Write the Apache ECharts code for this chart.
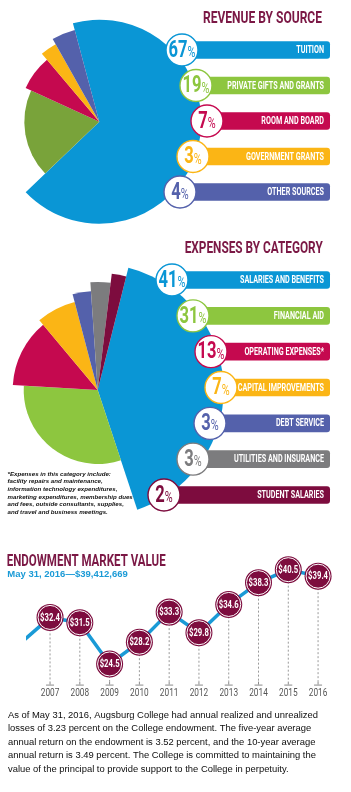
<!DOCTYPE html>
<html>
<head>
<meta charset="utf-8">
<script src="https://cdn.jsdelivr.net/npm/echarts@6/dist/echarts.min.js"></script>
<style>
  html, body { margin: 0; padding: 0; background: #fff; }
  #chart { width: 351px; height: 792px; }
</style>
</head>
<body>
<div id="chart"></div>
<script>
// ---- data ----
const revenueNames = ['TUITION', 'PRIVATE GIFTS AND GRANTS', 'ROOM AND BOARD', 'GOVERNMENT GRANTS', 'OTHER SOURCES'];
const revenuePct = [67, 19, 7, 3, 4];

const expenseNames = ['SALARIES AND BENEFITS', 'FINANCIAL AID', 'OPERATING EXPENSES*', 'CAPITAL IMPROVEMENTS',
  'DEBT SERVICE', 'UTILITIES AND INSURANCE', 'STUDENT SALARIES'];
const expensePct = [41, 31, 13, 7, 3, 3, 2];

const endowYears = [2007, 2008, 2009, 2010, 2011, 2012, 2013, 2014, 2015, 2016];
const endowValues = [32.4, 31.5, 24.5, 28.2, 33.3, 29.8, 34.6, 38.3, 40.5, 39.4];
const endowLeadIn = [2006, 28]; // line comes in from the left edge

// ---- look ----
const BLUE = '#0a96d5', GREEN = '#8dc63f', OLIVE = '#79a33a', RED = '#c5094f',
  YELLOW = '#fbb515', PURPLE = '#5461ab', GRAY = '#7c7c7e', MAROON = '#7d0c3e', TITLE = '#7b1845';
const FONT = 'Roboto';
const SQ = 0.72; // squeeze to mimic the condensed face

const revBarColors = [BLUE, GREEN, RED, YELLOW, PURPLE];
const revSliceColors = [BLUE, OLIVE, RED, YELLOW, PURPLE];
const revRadius = [102, 75, 81, 89, 95];
const revBadgeX = [182, 196, 207, 193, 180];

const expColors = [BLUE, GREEN, RED, YELLOW, PURPLE, GRAY, MAROON];
const expRadius = [126, 74, 85, 91, 99, 108, 117];
const expBadgeX = [172, 193, 211, 221, 210, 193, 164];

const BAR_END = 330;
const ENDOW_MIN = 21, ENDOW_MAX = 45;

const ctx = document.createElement('canvas').getContext('2d');
function textWidth(text, font) {
  ctx.font = font;
  return ctx.measureText(text).width;
}

// one pie layer per slice so every slice can have its own radius
function pieLayers(names, values, colors, radii, center, startAngle) {
  return names.map((_, k) => ({
    type: 'pie',
    z: 1,
    silent: true,
    center: center,
    radius: [0, radii[k]],
    startAngle: startAngle,
    clockwise: true,
    padAngle: 0,
    label: { show: false },
    labelLine: { show: false },
    itemStyle: { borderWidth: 0 },
    data: values.map((v, i) => ({
      value: v,
      name: names[i],
      itemStyle: { color: i === k ? colors[i] : 'rgba(0,0,0,0)' }
    }))
  }));
}

function badgeSeries(names, pct, colors, badgeX, axisIndex) {
  return {
    type: 'custom',
    z: 3,
    silent: true,
    xAxisIndex: axisIndex,
    yAxisIndex: axisIndex,
    data: names.map((n, i) => [badgeX[i], i, pct[i]]),
    renderItem: function (params, api) {
      const i = params.dataIndex;
      const c = colors[i];
      const p = api.coord([api.value(0), api.value(1)]);
      const end = api.coord([BAR_END, api.value(1)]);
      const digits = String(api.value(2));
      const fN = 'bold 23px ' + FONT, fP = '15px ' + FONT;
      const wN = textWidth(digits, fN) * SQ, wP = textWidth('%', fP) * SQ;
      const left = p[0] - (wN + wP) / 2;
      return {
        type: 'group',
        children: [
          { type: 'rect', shape: { x: p[0], y: p[1] - 8.8, width: end[0] - p[0], height: 17.6, r: [0, 3, 3, 0] },
            style: { fill: c } },
          { type: 'circle', shape: { cx: p[0], cy: p[1], r: 16 },
            style: { fill: '#fff', stroke: c, lineWidth: 1.4 } },
          { type: 'text', x: left, y: p[1] + 1, scaleX: SQ,
            style: { text: digits, font: fN, fill: c, align: 'left', verticalAlign: 'middle' } },
          { type: 'text', x: left + wN, y: p[1] + 3.4, scaleX: SQ,
            style: { text: '%', font: fP, fill: c, align: 'left', verticalAlign: 'middle' } },
          { type: 'text', x: end[0] - 6, y: p[1] + 0.5, scaleX: SQ,
            style: { text: names[i], font: 'bold 10px ' + FONT, fill: '#fff', align: 'right', verticalAlign: 'middle' } }
        ]
      };
    }
  };
}

function titleText(text, x, y, width, align) {
  const font = 'bold 17.3px ' + FONT;
  return {
    type: 'text', x: x, y: y, scaleX: width / textWidth(text, font), silent: true,
    style: { text: text, font: font, fill: TITLE, align: align, verticalAlign: 'middle' }
  };
}

const footnote = [
  '*Expenses in this category include:',
  'facility repairs and maintenance,',
  'information technology expenditures,',
  'marketing expenditures, membership dues',
  'and fees, outside consultants, supplies,',
  'and travel and business meetings.'
].join('\n');

const paragraphLines = [
  'As of May 31, 2016, Augsburg College had annual realized and unrealized',
  'losses of 3.23 percent on the College endowment. The five-year average',
  'annual return on the endowment is 3.52 percent, and the 10-year average',
  'annual return is 3.49 percent. The College is committed to maintaining the',
  'value of the principal to provide support to the College in perpetuity.'
];
const paraFont = '9.2px "Liberation Sans"';

const chart = echarts.init(document.getElementById('chart'), null, { renderer: 'canvas' });

const option = {
  animation: false,
  grid: [
    { left: 0, right: 0, top: 32.25, height: 177.5 },
    { left: 0, right: 0, top: 262.1, height: 250.8 },
    { left: 28, right: 9.1, top: 543.16, height: 141.43 }
  ],
  xAxis: [
    { gridIndex: 0, type: 'value', min: 0, max: 351, show: false },
    { gridIndex: 1, type: 'value', min: 0, max: 351, show: false },
    { gridIndex: 2, type: 'value', min: 2006.26, max: 2016.8, show: false }
  ],
  yAxis: [
    { gridIndex: 0, type: 'category', data: revenueNames, inverse: true, show: false },
    { gridIndex: 1, type: 'category', data: expenseNames, inverse: true, show: false },
    { gridIndex: 2, type: 'value', min: ENDOW_MIN, max: ENDOW_MAX, show: false }
  ],
  graphic: [
    titleText('REVENUE BY SOURCE', 322, 18.5, 119, 'right'),
    titleText('EXPENSES BY CATEGORY', 322.7, 249, 138, 'right'),
    titleText('ENDOWMENT MARKET VALUE', 6.7, 561.4, 159, 'left'),
    { type: 'text', x: 7.3, y: 574.8, silent: true,
      style: { text: 'May 31, 2016\u2014$39,412,669', font: 'bold 9.5px "Liberation Sans"', fill: '#1a9ad6',
        align: 'left', verticalAlign: 'middle' } },
    { type: 'text', x: 7.5, y: 470.2, silent: true,
      style: { text: footnote, font: 'italic bold 6.15px "Liberation Sans"', fill: '#111', lineHeight: 7.67,
        align: 'left', verticalAlign: 'top' } },
    { type: 'text', x: 8, y: 708.3, silent: true,
      scaleX: 310 / textWidth(paragraphLines[0], paraFont),
      style: { text: paragraphLines.join('\n'), font: paraFont, fill: '#0d0d0d', lineHeight: 13.5,
        align: 'left', verticalAlign: 'top' } }
  ],
  series: [
    ...pieLayers(revenueNames, revenuePct, revSliceColors, revRadius, [99.3, 121.7], 105),
    ...pieLayers(expenseNames, expensePct, expColors, expRadius, [97.7, 390], 75.9),
    badgeSeries(revenueNames, revenuePct, revBarColors, revBadgeX, 0),
    badgeSeries(expenseNames, expensePct, expColors, expBadgeX, 1),
    {
      type: 'line',
      xAxisIndex: 2,
      yAxisIndex: 2,
      z: 2,
      silent: true,
      clip: true,
      symbol: 'none',
      lineStyle: { color: '#1a9ad6', width: 3.5 },
      data: [endowLeadIn].concat(endowYears.map((y, i) => [y, endowValues[i]]))
    },
    {
      type: 'custom',
      xAxisIndex: 2,
      yAxisIndex: 2,
      z: 3,
      silent: true,
      data: endowYears.map((y, i) => [y, endowValues[i]]),
      renderItem: function (params, api) {
        const yr = api.value(0), v = api.value(1);
        const p = api.coord([yr, v]);
        const base = api.coord([yr, ENDOW_MIN]);
        return {
          type: 'group',
          children: [
            { type: 'line', shape: { x1: p[0], y1: p[1], x2: p[0], y2: base[1] - 3 },
              style: { stroke: '#9a9a9a', lineWidth: 1, lineDash: [2, 2] } },
            { type: 'line', shape: { x1: p[0], y1: base[1] - 3, x2: p[0], y2: base[1] },
              style: { stroke: '#8a8a8a', lineWidth: 1 } },
            { type: 'line', shape: { x1: p[0] - 4, y1: base[1] + 0.5, x2: p[0] + 4, y2: base[1] + 0.5 },
              style: { stroke: '#8a8a8a', lineWidth: 1 } },
            { type: 'circle', shape: { cx: p[0], cy: p[1], r: 13.5 }, style: { fill: MAROON } },
            { type: 'circle', shape: { cx: p[0], cy: p[1], r: 12 },
              style: { fill: 'none', stroke: '#fff', lineWidth: 1 } },
            { type: 'text', x: p[0], y: p[1] + 0.5, scaleX: 0.7,
              style: { text: '$' + v.toFixed(1), font: 'bold 11px ' + FONT, fill: '#fff',
                align: 'center', verticalAlign: 'middle' } },
            { type: 'text', x: p[0], y: base[1] + 8.2, scaleX: SQ,
              style: { text: String(yr), font: '11.5px ' + FONT, fill: '#555',
                align: 'center', verticalAlign: 'middle' } }
          ]
        };
      }
    }
  ]
};

chart.setOption(option);
</script>
</body>
</html>
